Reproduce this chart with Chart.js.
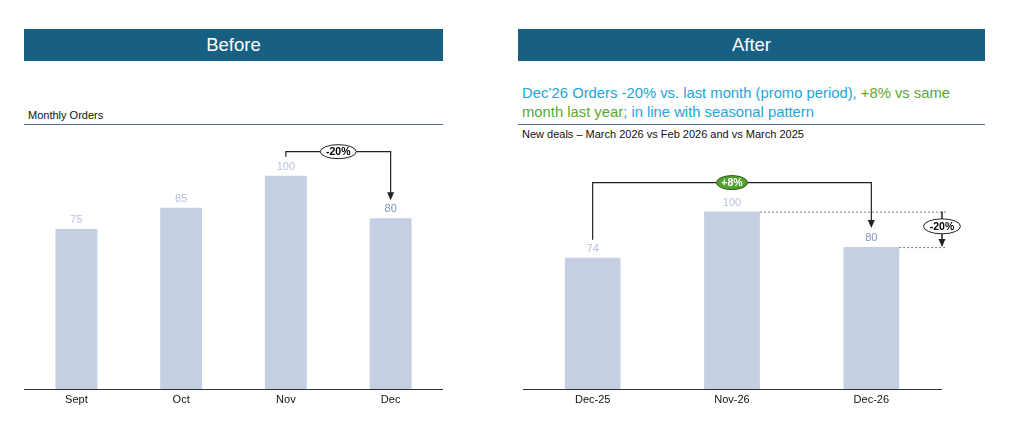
<!DOCTYPE html>
<html lang="en">
<head>
  <meta charset="UTF-8">
  <title>Before / After - Monthly Orders</title>
  <script src="https://cdn.jsdelivr.net/npm/chart.js"></script>
  <style>
    body { margin: 0; width: 1024px; height: 421px; background: #fff; font-family: "Liberation Sans", Arial, sans-serif; position: relative; overflow: hidden; }
    .header { position: absolute; top: 29px; height: 32px; background: #176083; color: #fff; font-size: 18.5px; line-height: 32px; text-align: center; }
    .rule { position: absolute; top: 124px; height: 0; border-top: 1.5px solid #5b6f86; }
    .sub { position: absolute; font-size: 11px; color: #111; white-space: nowrap; }
    .msg { position: absolute; left: 522px; top: 84px; font-size: 14.8px; line-height: 19px; color: #22a5d8; white-space: nowrap; }
    .msg .g { color: #5aa834; }
    .box { position: absolute; top: 130px; height: 281px; }
  </style>
</head>
<body>
  <div class="header" style="left:24px; width:419px;">Before</div>
  <div class="header" style="left:518px; width:467px;">After</div>

  <div class="sub" style="left:28px; top:109px;">Monthly Orders</div>
  <div class="rule" style="left:24px; width:419px;"></div>

  <div class="msg">Dec’26 Orders -20% vs. last month (promo period), <span class="g">+8% vs same</span><br><span class="g">month last year</span>; in line with seasonal pattern</div>
  <div class="rule" style="left:518px; width:467px;"></div>
  <div class="sub" style="left:522px; top:128px;">New deals – March 2026 vs Feb 2026 and vs March 2025</div>

  <div class="box" style="left:24px; width:419px;"><canvas id="before"></canvas></div>
  <div class="box" style="left:518px; width:467px;"><canvas id="after"></canvas></div>

  <script>
    // data
    const beforeLabels = ["Sept", "Oct", "Nov", "Dec"];
    const beforeValues = [75, 85, 100, 80];
    const afterLabels = ["Dec-25", "Nov-26", "Dec-26"];
    const afterValues = [74, 100, 80];

    const barColor = "#c4cfe2";
    const lightLabel = "#b3c2dc";
    const darkLabel = "#7f96c0";
    const lineColor = "#222";
    const fontFamily = "'Liberation Sans', Arial, sans-serif";

    function arrowDown(ctx, x, tipY) {
      ctx.beginPath();
      ctx.moveTo(x - 3.5, tipY - 8);
      ctx.lineTo(x + 3.5, tipY - 8);
      ctx.lineTo(x, tipY);
      ctx.closePath();
      ctx.fill();
    }

    function pill(ctx, cx, cy, w, h, text, fill, stroke, textColor) {
      ctx.beginPath();
      ctx.ellipse(cx, cy, w / 2, h / 2, 0, 0, Math.PI * 2);
      ctx.fillStyle = fill;
      ctx.fill();
      ctx.lineWidth = 1;
      ctx.strokeStyle = stroke;
      ctx.stroke();
      ctx.fillStyle = textColor;
      ctx.font = "bold 10.5px " + fontFamily;
      ctx.textAlign = "center";
      ctx.textBaseline = "middle";
      ctx.fillText(text, cx, cy + 0.5);
    }

    // value labels above bars
    const valueLabels = {
      id: "valueLabels",
      afterDatasetsDraw(chart, args, opts) {
        const ctx = chart.ctx;
        const meta = chart.getDatasetMeta(0);
        ctx.save();
        ctx.font = "11px " + fontFamily;
        ctx.textAlign = "center";
        ctx.textBaseline = "middle";
        meta.data.forEach((bar, i) => {
          ctx.fillStyle = i === opts.highlight ? darkLabel : lightLabel;
          ctx.fillText(chart.data.datasets[0].data[i], bar.x, bar.y - 9);
        });
        ctx.restore();
      }
    };

    // -20% bracket (before chart)
    const beforeNotes = {
      id: "beforeNotes",
      afterDraw(chart) {
        const { ctx, scales: { x, y } } = chart;
        const x1 = x.getPixelForValue(2), x2 = x.getPixelForValue(3);
        const top = y.getPixelForValue(beforeValues[2]) - 24;
        const startY = top + 5;
        const tipY = y.getPixelForValue(beforeValues[3]) - 18;
        ctx.save();
        ctx.strokeStyle = lineColor;
        ctx.fillStyle = lineColor;
        ctx.lineWidth = 1.2;
        ctx.beginPath();
        ctx.moveTo(x1, startY);
        ctx.lineTo(x1, top);
        ctx.lineTo(x2, top);
        ctx.lineTo(x2, tipY - 6);
        ctx.stroke();
        arrowDown(ctx, x2, tipY);
        pill(ctx, (x1 + x2) / 2, top, 36, 14, "-20%", "#fff", "#222", "#000");
        ctx.restore();
      }
    };

    // +8% bracket and -20% marker (after chart)
    const afterNotes = {
      id: "afterNotes",
      afterDraw(chart) {
        const { ctx, chartArea, scales: { x, y } } = chart;
        const meta = chart.getDatasetMeta(0);
        const x0 = x.getPixelForValue(0), x2 = x.getPixelForValue(2);
        const top = y.getPixelForValue(afterValues[1]) - 29;
        const startY = y.getPixelForValue(afterValues[0]) - 18;
        const tipY = y.getPixelForValue(afterValues[2]) - 19;
        const y100 = y.getPixelForValue(afterValues[1]);
        const y80 = y.getPixelForValue(afterValues[2]);
        const xr = chartArea.right + 1;
        ctx.save();
        ctx.strokeStyle = lineColor;
        ctx.fillStyle = lineColor;
        ctx.lineWidth = 1.2;
        ctx.beginPath();
        ctx.moveTo(x0, startY);
        ctx.lineTo(x0, top);
        ctx.lineTo(x2, top);
        ctx.lineTo(x2, tipY - 6);
        ctx.stroke();
        arrowDown(ctx, x2, tipY);

        // dotted guides
        ctx.setLineDash([2, 2]);
        ctx.strokeStyle = "#777";
        ctx.lineWidth = 1;
        const b1 = meta.data[1], b2 = meta.data[2];
        ctx.beginPath();
        ctx.moveTo(b1.x + b1.width / 2, y100 + 0.5);
        ctx.lineTo(xr + 4, y100 + 0.5);
        ctx.moveTo(b2.x + b2.width / 2, y80 + 0.5);
        ctx.lineTo(xr + 4, y80 + 0.5);
        ctx.stroke();
        ctx.setLineDash([]);

        // vertical -20% marker
        const cy = (y100 + y80) / 2 - 3;
        ctx.strokeStyle = lineColor;
        ctx.lineWidth = 1.5;
        ctx.beginPath();
        ctx.moveTo(xr, y100);
        ctx.lineTo(xr, cy - 7);
        ctx.moveTo(xr, cy + 7);
        ctx.lineTo(xr, y80 - 6);
        ctx.stroke();
        arrowDown(ctx, xr, y80);
        pill(ctx, xr, cy, 37, 15, "-20%", "#fff", "#222", "#000");
        pill(ctx, (x0 + x2) / 2, top, 31, 14, "+8%", "#54a22e", "#2d5a18", "#fff");
        ctx.restore();
      }
    };

    function makeChart(id, labels, values, yMax, padding, highlight, notes) {
      return new Chart(document.getElementById(id), {
        type: "bar",
        data: {
          labels: labels,
          datasets: [{
            data: values,
            backgroundColor: barColor,
            barPercentage: 0.4,
            categoryPercentage: 1
          }]
        },
        options: {
          responsive: true,
          maintainAspectRatio: false,
          animation: false,
          layout: { padding: padding },
          plugins: {
            legend: { display: false },
            tooltip: { enabled: false },
            valueLabels: { highlight: highlight }
          },
          scales: {
            x: {
              grid: { display: false, drawTicks: false },
              border: { display: true, color: "#333", width: 1 },
              ticks: { color: "#111", padding: 4, font: { size: 11, family: fontFamily } },
              afterFit(scale) { scale.height = 22; }
            },
            y: { display: false, min: 0, max: yMax }
          }
        },
        plugins: [valueLabels, notes]
      });
    }

    makeChart("before", beforeLabels, beforeValues, 120, { top: 3, left: 0, right: 0, bottom: 0 }, 3, beforeNotes);
    makeChart("after", afterLabels, afterValues, 146, { top: 0, left: 5, right: 44, bottom: 0 }, 2, afterNotes);
  </script>
</body>
</html>
